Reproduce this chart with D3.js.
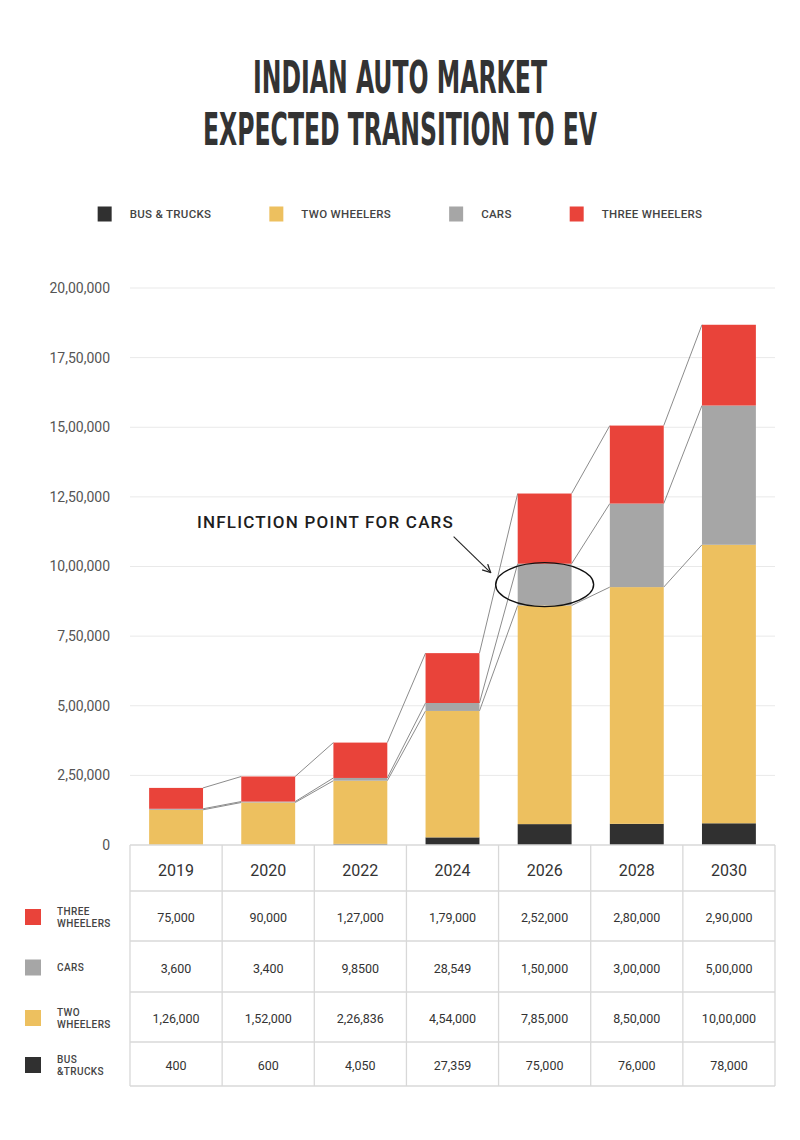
<!DOCTYPE html>
<html>
<head>
<meta charset="utf-8">
<script src="https://cdn.jsdelivr.net/npm/d3@7"></script>
<style>
body{margin:0;background:#fff;}
svg{display:block;font-family:Roboto,"Noto Sans",sans-serif;}
</style>
</head>
<body>
<div id="chart"></div>
<script>
// data
var years = ["2019","2020","2022","2024","2026","2028","2030"];
var busTrucks = [400,600,4050,27359,75000,76000,78000];
var twoWheelers = [126000,152000,226836,454000,785000,850000,1000000];
var cars = [3600,3400,9850,28549,150000,300000,500000];
var threeWheelers = [75000,90000,127000,179000,252000,280000,290000];
var yTicks = [0,250000,500000,750000,1000000,1250000,1500000,1750000,2000000];

// series bottom -> top
var seriesNames = ["BUS & TRUCKS","TWO WHEELERS","CARS","THREE WHEELERS"];
var seriesValues = [busTrucks,twoWheelers,cars,threeWheelers];
var seriesColors = ["#303030","#edc05f","#a6a6a6","#e9433a"];
var tableLabels = [["BUS","&TRUCKS"],["TWO","WHEELERS"],["CARS"],["THREE","WHEELERS"]];
// the source table has one typo we keep as printed
var tableOverrides = {"2-2":"9,8500"};

var W = 800, H = 1140;
var plotLeft = 130, plotRight = 775, plotBase = 845, plotTop = 288;

function fmtIN(n){
    var s = String(Math.round(n));
    if(s.length <= 3) return s;
    var last3 = s.slice(-3), rest = s.slice(0,-3);
    rest = rest.replace(/\B(?=(\d{2})+(?!\d))/g, ",");
    return rest + "," + last3;
}

var svg = d3.select("#chart").append("svg")
    .attr("width", W).attr("height", H);

var defs = svg.append("defs");
defs.append("marker").attr("id","arr")
    .attr("viewBox","0 0 10 10").attr("refX",9).attr("refY",5)
    .attr("markerWidth",10).attr("markerHeight",10)
    .attr("markerUnits","userSpaceOnUse").attr("orient","auto")
  .append("path").attr("d","M1,1 L9,5 L1,9")
    .attr("fill","none").attr("stroke","#222").attr("stroke-width",1.3);

// title
var titleLines = [{t:"INDIAN AUTO MARKET", y:93, w:294},{t:"EXPECTED TRANSITION TO EV", y:145, w:394}];
svg.selectAll(".title").data(titleLines).enter().append("text")
    .attr("class","title")
    .attr("x", W/2).attr("y", function(d){ return d.y; })
    .attr("text-anchor","middle")
    .attr("textLength", function(d){ return d.w; })
    .attr("lengthAdjust","spacingAndGlyphs")
    .style("font-family","'Liberation Sans Narrow','DejaVu Sans Condensed',sans-serif")
    .style("font-weight","bold").style("font-size","45px")
    .attr("fill","#333")
    .text(function(d){ return d.t; });

// legend, laid out from measured text and centred
var leg = svg.append("g");
var items = leg.selectAll("g").data(seriesNames).enter().append("g");
items.append("rect").attr("width",14).attr("height",15).attr("y",-7.5)
    .attr("fill", function(d,i){ return seriesColors[i]; });
items.append("text").attr("x",32).attr("dy","0.35em")
    .style("font-size","11.5px").style("font-weight",500).style("letter-spacing","0.3px")
    .attr("fill","#444").text(function(d){ return d; });
var lx = 0, widths = [];
items.each(function(){ widths.push(32 + d3.select(this).select("text").node().getComputedTextLength()); });
var gap = 58;
var totalW = d3.sum(widths) + gap*(widths.length-1);
items.attr("transform", function(d,i){
    var x = lx; lx += widths[i] + gap;
    return "translate(" + x + ",0)";
});
leg.attr("transform","translate(" + (W/2 - totalW/2) + ",214)");

// scales
var x = d3.scaleBand().domain(years).range([plotLeft,plotRight]).padding(0);
var y = d3.scaleLinear().domain([0,2000000]).range([plotBase,plotTop]);
var barW = x.bandwidth()*0.585;
var barOff = (x.bandwidth()-barW)/2;

// grid
svg.append("g").selectAll("line").data(yTicks.filter(function(v){ return v>0; }))
    .enter().append("line")
    .attr("x1",plotLeft).attr("x2",plotRight)
    .attr("y1",function(d){ return y(d); }).attr("y2",function(d){ return y(d); })
    .attr("stroke","#e9e9e9").attr("stroke-width",1);

// y axis labels
var yAxis = svg.append("g").attr("transform","translate(110,0)")
    .call(d3.axisLeft(y).tickValues(yTicks).tickFormat(fmtIN).tickSize(0).tickPadding(0));
yAxis.select(".domain").remove();
yAxis.selectAll("text").style("font-family","Roboto,sans-serif").style("font-size","14px").attr("fill","#555");

// stack
var rows = years.map(function(yr,i){
    var o = {year:yr};
    seriesValues.forEach(function(s,k){ o["s"+k] = s[i]; });
    return o;
});
var stack = d3.stack().keys(seriesNames.map(function(d,k){ return "s"+k; }))(rows);

// connector lines between tops of two wheelers, cars and total
var conn = svg.append("g");
[1,2,3].forEach(function(k){
    var layer = stack[k];
    for(var i=0;i<years.length-1;i++){
        conn.append("line")
            .attr("x1", x(years[i])+barOff+barW).attr("y1", y(layer[i][1]))
            .attr("x2", x(years[i+1])+barOff).attr("y2", y(layer[i+1][1]))
            .attr("stroke","#8c8c8c").attr("stroke-width",1);
    }
});

// bars
svg.append("g").selectAll("g").data(stack).enter().append("g")
    .attr("fill", function(d,k){ return seriesColors[k]; })
  .selectAll("rect").data(function(d){ return d; }).enter().append("rect")
    .attr("x", function(d){ return x(d.data.year)+barOff; })
    .attr("width", barW)
    .attr("y", function(d){ return y(d[1]); })
    .attr("height", function(d){ return y(d[0]) - y(d[1]); });

// annotation around the 2026 cars segment
var iAnn = years.indexOf("2026");
var ec = {x: x("2026")+x.bandwidth()/2, y: y((stack[2][iAnn][0]+stack[2][iAnn][1])/2)};
svg.append("ellipse").attr("cx",ec.x).attr("cy",ec.y).attr("rx",49).attr("ry",22)
    .attr("fill","none").attr("stroke","#111").attr("stroke-width",1.4);
svg.append("line")
    .attr("x1",ec.x-91).attr("y1",ec.y-48).attr("x2",ec.x-54).attr("y2",ec.y-12)
    .attr("stroke","#222").attr("stroke-width",1.1).attr("marker-end","url(#arr)");
svg.append("text").attr("x",197).attr("y",528)
    .style("font-size","17px").style("font-weight",500).style("letter-spacing","1.2px")
    .attr("fill","#1e1e1e").text("INFLICTION POINT FOR CARS");

// table
var headH = 46, rowH = [50,51,50,44];
var rowTops = [plotBase+headH];
for(var r=1;r<rowH.length;r++) rowTops.push(rowTops[r-1]+rowH[r-1]);
var tableBottom = rowTops[rowTops.length-1] + rowH[rowH.length-1];
var tbl = svg.append("g");
var hLines = [plotBase].concat(rowTops).concat([tableBottom]);
tbl.selectAll(".hl").data(hLines).enter().append("line")
    .attr("x1",plotLeft).attr("x2",plotRight).attr("y1",function(d){ return d; }).attr("y2",function(d){ return d; })
    .attr("stroke","#d8d8d8").attr("stroke-width",1.3);
tbl.selectAll(".vl").data(years.map(function(d){ return x(d); }).concat([plotRight])).enter().append("line")
    .attr("x1",function(d){ return d; }).attr("x2",function(d){ return d; })
    .attr("y1",plotBase).attr("y2",tableBottom)
    .attr("stroke","#d8d8d8").attr("stroke-width",1.3);

tbl.selectAll(".yr").data(years).enter().append("text")
    .attr("x",function(d){ return x(d)+x.bandwidth()/2; }).attr("y",plotBase+headH/2+2)
    .attr("dy","0.35em").attr("text-anchor","middle")
    .style("font-size","16px").attr("fill","#333").text(function(d){ return d; });

// rows, top row is three wheelers
[3,2,1,0].forEach(function(k,r){
    var cy = rowTops[r] + rowH[r]/2 + 1;
    var g = tbl.append("g");
    g.append("rect").attr("x",25).attr("y",cy-8).attr("width",16).attr("height",16)
        .attr("fill",seriesColors[k]);
    var lab = tableLabels[k];
    g.selectAll(".lab").data(lab).enter().append("text")
        .attr("x",57)
        .attr("y",function(d,j){ return lab.length==1 ? cy : cy-6+j*12; })
        .attr("dy","0.35em")
        .style("font-size","10px").style("font-weight",500).style("letter-spacing","0.4px")
        .attr("fill","#444").text(function(d){ return d; });
    g.selectAll(".val").data(seriesValues[k]).enter().append("text")
        .attr("x",function(d,i){ return x(years[i])+x.bandwidth()/2; })
        .attr("y",cy+1).attr("dy","0.35em").attr("text-anchor","middle")
        .style("font-size","12.5px").attr("fill","#333")
        .text(function(d,i){ return tableOverrides[k+"-"+i] || fmtIN(d); });
});
</script>
</body>
</html>
